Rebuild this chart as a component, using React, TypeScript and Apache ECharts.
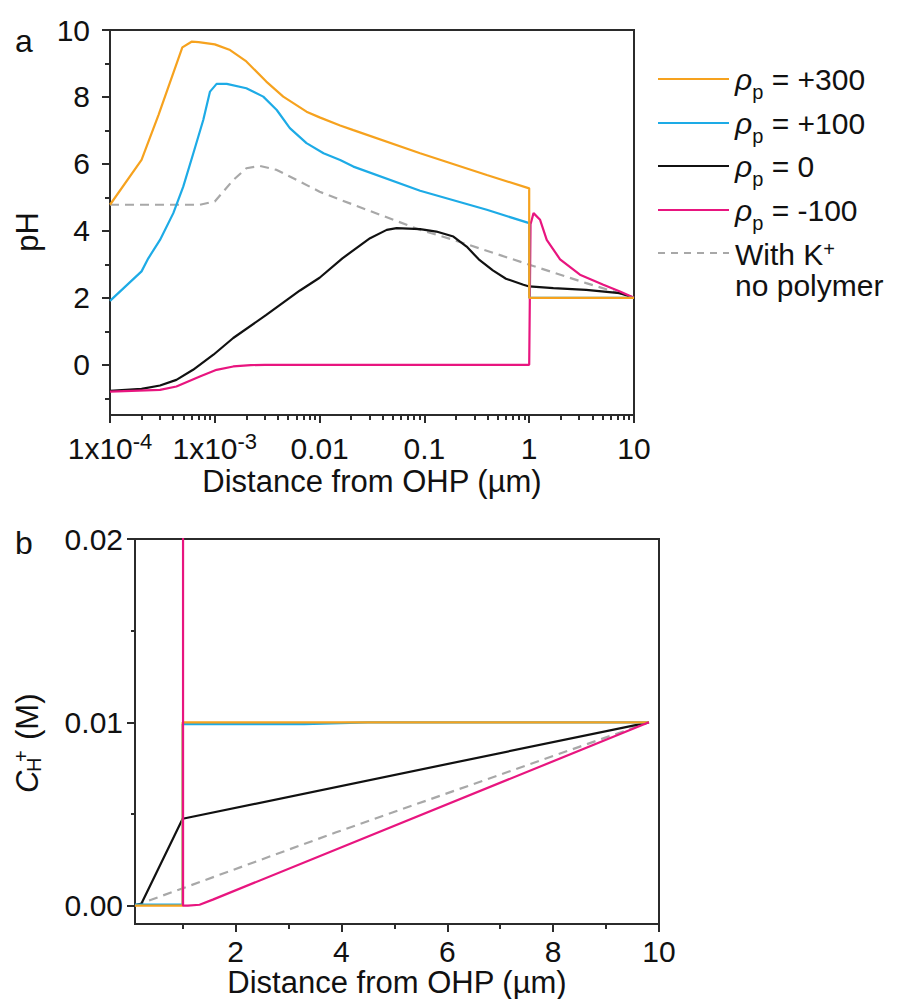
import React, { useEffect, useRef } from 'react';
import * as echarts from 'echarts';

const FONT = "'Liberation Sans', Arial, Helvetica, sans-serif";
const INK = '#111';
const AXIS = '#2b2b2b';

// ---- Panel a: pH vs distance from OHP (µm), log x ----
const pH300: [number, number][] = [
  [1e-4, 4.78], [2e-4, 6.12], [2.9e-4, 7.46], [4.9e-4, 9.48], [6.0e-4, 9.65], [7.0e-4, 9.64],
  [1.0e-3, 9.57], [1.4e-3, 9.4], [2.0e-3, 9.06], [3.1e-3, 8.46], [4.5e-3, 8.01], [7.5e-3, 7.56],
  [0.01, 7.39], [0.0157, 7.15], [0.021, 7.01], [0.091, 6.32], [0.394, 5.67], [1.0, 5.27],
  [1.0, 2.0], [10, 2.0],
];
const pH100: [number, number][] = [
  [1e-4, 1.91], [2e-4, 2.79], [2.32e-4, 3.18], [3.0e-4, 3.73], [4.02e-4, 4.53], [5.0e-4, 5.32],
  [6.24e-4, 6.32], [7.76e-4, 7.31], [9.0e-4, 8.16], [1.04e-3, 8.39], [1.3e-3, 8.39], [2.0e-3, 8.26],
  [2.9e-3, 8.01], [3.9e-3, 7.61], [5.2e-3, 7.07], [7.5e-3, 6.62], [0.0109, 6.32], [0.0157, 6.12],
  [0.021, 5.92], [0.091, 5.2], [0.394, 4.63], [1.0, 4.23], [1.0, 2.0], [10, 2.0],
];
const pH0: [number, number][] = [
  [1e-4, -0.78], [2e-4, -0.72], [3e-4, -0.62], [4.3e-4, -0.45], [6.2e-4, -0.15], [9.7e-4, 0.3],
  [1.5e-3, 0.8], [3.1e-3, 1.49], [6.5e-3, 2.22], [0.01, 2.6], [0.0165, 3.18], [0.0303, 3.78],
  [0.0437, 4.03], [0.0543, 4.08], [0.091, 4.05], [0.13, 3.98], [0.189, 3.83], [0.253, 3.53],
  [0.33, 3.15], [0.45, 2.82], [0.6, 2.57], [0.88, 2.39], [1.0, 2.34], [1.7, 2.29], [3.5, 2.24],
  [7.3, 2.14], [10, 2.0],
];
const pHm100: [number, number][] = [
  [1e-4, -0.8], [3e-4, -0.75], [4.3e-4, -0.65], [7.2e-4, -0.35], [1.04e-3, -0.15], [1.5e-3, -0.05],
  [2.2e-3, -0.01], [3e-3, 0], [1.0, 0], [1.03, 4.2], [1.1, 4.53], [1.27, 4.33], [1.47, 3.73],
  [1.97, 3.15], [3.05, 2.69], [5.1, 2.39], [7.35, 2.19], [10, 2.0],
];
const pHK: [number, number][] = [
  [1e-4, 4.78], [7.2e-4, 4.78], [1.0e-3, 4.88], [1.5e-3, 5.52], [2.0e-3, 5.87], [2.7e-3, 5.94],
  [3.9e-3, 5.82], [6.5e-3, 5.47], [0.01, 5.17], [0.0157, 4.93], [0.091, 4.03], [0.19, 3.73],
  [1.0, 2.99], [3.5, 2.44], [10, 2.0],
];

// ---- Panel b: C_H+ (M) vs distance from OHP (µm), linear x ----
const cH300: [number, number][] = [[0.1, 0], [1.0, 0], [1.0, 0.01], [9.81, 0.01]];
const cH100: [number, number][] = [
  [0.1, 0.00006], [1.0, 0.00006], [1.0, 0.0099], [3.3, 0.0099], [4.5, 0.01], [9.81, 0.01],
];
const cH0: [number, number][] = [[0.1, 0.00003], [0.22, 0.0001], [1.0, 0.00474], [9.81, 0.01]];
const cHm100: [number, number][] = [
  [0.1, 1.0], [0.995, 1.0], [1.008, 0.0], [1.1, 0.0], [1.32, 0.00005], [1.57, 0.00033], [9.81, 0.01],
];
const cHK: [number, number][] = [[0.1, 0.0], [3.9, 0.004], [9.81, 0.01]];

// ---- ticks ----
const topXLabels = ['1x10', '1x10', '0.01', '0.1', '1', '10'];
const topXExponents = [-4, -3];
const logDecades = [-4, -3, -2, -1, 0];
const logMinorMultipliers = [2, 3, 4, 5, 6, 7, 8, 9];
const topYTicks = [0, 2, 4, 6, 8, 10];
const topYMinor = [-1, 1, 3, 5, 7, 9];
const botXTicks = [2, 4, 6, 8, 10];
const botXMinor = [1, 3, 5, 7, 9];
const botYTicks = [0, 0.01, 0.02];
const botYMinor = [0.005, 0.015];

const legendValues = ['+300', '+100', '0', '-100'];
const COLORS = {
  p300: '#F6A21E',
  p100: '#1DABE6',
  p0: '#111111',
  m100: '#E8157F',
  k: '#A8A8A8',
};

const logMinorValues: number[] = [];
logDecades.forEach((d) => logMinorMultipliers.forEach((m) => logMinorValues.push(d + Math.log10(m))));

const lineStyleAxis = { color: AXIS, width: 2 };

function majorAxisBase() {
  return {
    axisLine: { show: true, onZero: false, lineStyle: lineStyleAxis },
    axisTick: { show: true, length: 8, lineStyle: lineStyleAxis },
    splitLine: { show: false },
    axisLabel: { color: INK, fontSize: 30, fontFamily: FONT },
  };
}
function minorAxis(extra: any, values: number[], len: number) {
  return {
    ...extra,
    axisLine: { show: false, onZero: false },
    axisTick: { show: true, length: len, customValues: values, lineStyle: lineStyleAxis },
    axisLabel: { show: false },
    splitLine: { show: false },
  };
}

function lineSeries(name: string, data: [number, number][], color: string, axisIdx: number, z: number, dashed = false) {
  return {
    name,
    type: 'line',
    xAxisIndex: axisIdx,
    yAxisIndex: axisIdx,
    data,
    showSymbol: false,
    symbol: 'none',
    smooth: false,
    clip: true,
    z,
    lineStyle: { color, width: 2.2, type: dashed ? [9, 6] : 'solid' },
    itemStyle: { color },
  };
}

export default function App() {
  const ref = useRef<HTMLDivElement>(null);
  useEffect(() => {
    if (!ref.current) return;
    const chart = echarts.init(ref.current, null, { renderer: 'svg' });

    const textBase = { fontFamily: FONT, fill: INK };
    const legendColors = [COLORS.p300, COLORS.p100, COLORS.p0, COLORS.m100];
    const rowY = [79, 123, 166, 210, 253];
    const legendGraphics: any[] = [];
    legendValues.forEach((v, i) => {
      legendGraphics.push({
        type: 'line',
        shape: { x1: 658, y1: rowY[i], x2: 729, y2: rowY[i] },
        style: { stroke: legendColors[i], lineWidth: 2.2 },
      });
      legendGraphics.push({
        type: 'text',
        x: 735,
        y: rowY[i] - 15,
        style: {
          ...textBase,
          text: `{r|ρ}{p|p}{n| = ${v}}`,
          verticalAlign: 'top',
          align: 'left',
          rich: {
            r: { fontSize: 30, lineHeight: 30, fontStyle: 'italic', verticalAlign: 'top', fontFamily: FONT, fill: INK },
            p: { fontSize: 20, lineHeight: 20, padding: [18, 0, 0, 0], verticalAlign: 'top', fontFamily: FONT, fill: INK },
            n: { fontSize: 30, lineHeight: 30, verticalAlign: 'top', fontFamily: FONT, fill: INK },
          },
        },
      });
    });
    legendGraphics.push({
      type: 'line',
      shape: { x1: 658, y1: rowY[4], x2: 729, y2: rowY[4] },
      style: { stroke: COLORS.k, lineWidth: 2.2, lineDash: [7, 6] },
    });
    legendGraphics.push({
      type: 'text',
      x: 735,
      y: rowY[4] - 14,
      style: {
        ...textBase,
        text: '{n|With K}{s|+}',
        verticalAlign: 'top',
        rich: {
          n: { fontSize: 30, lineHeight: 30, verticalAlign: 'top', fontFamily: FONT, fill: INK },
          s: { fontSize: 20, lineHeight: 20, verticalAlign: 'top', fontFamily: FONT, fill: INK },
        },
      },
    });
    legendGraphics.push({
      type: 'text',
      x: 735,
      y: rowY[4] + 32,
      style: { ...textBase, text: 'no polymer', fontSize: 30, verticalAlign: 'middle' },
    });

    const option: any = {
      animation: false,
      textStyle: { fontFamily: FONT },
      grid: [
        { left: 110, top: 30, width: 524, height: 385, show: true, borderColor: AXIS, borderWidth: 2, containLabel: false, outerBoundsMode: 'none' },
        { left: 135, top: 539, width: 524, height: 385, show: true, borderColor: AXIS, borderWidth: 2, containLabel: false, outerBoundsMode: 'none' },
      ],
      xAxis: [
        {
          ...majorAxisBase(),
          type: 'log',
          logBase: 10,
          gridIndex: 0,
          position: 'bottom',
          min: 1e-4,
          max: 10,
          axisLabel: {
            color: INK,
            fontFamily: FONT,
            margin: 15,
            formatter: (v: number) => {
              const e = Math.round(Math.log10(v));
              const idx = e + 4;
              if (topXExponents.indexOf(e) >= 0) return `{n|${topXLabels[idx]}}{s|${e}}`;
              return `{n|${topXLabels[idx]}}`;
            },
            rich: {
              n: { fontSize: 30, lineHeight: 30, padding: [3, 0, 0, 0], verticalAlign: 'top', color: INK, fontFamily: FONT },
              s: { fontSize: 22, lineHeight: 22, verticalAlign: 'top', color: INK, fontFamily: FONT },
            },
          },
          name: 'Distance from OHP (µm)',
          nameLocation: 'middle',
          nameGap: 51,
          nameMoveOverlap: false,
          nameTextStyle: { fontSize: 31, color: INK, fontFamily: FONT },
        },
        minorAxis({ type: 'value', gridIndex: 0, position: 'bottom', min: -4, max: 1 }, logMinorValues, 5),
        {
          ...majorAxisBase(),
          type: 'value',
          gridIndex: 1,
          position: 'bottom',
          min: 0.1,
          max: 10,
          axisTick: { show: true, length: 8, customValues: botXTicks, lineStyle: lineStyleAxis },
          axisLabel: { color: INK, fontSize: 30, fontFamily: FONT, margin: 12, customValues: botXTicks },
          name: 'Distance from OHP (µm)',
          nameLocation: 'middle',
          nameGap: 43,
          nameMoveOverlap: false,
          nameTextStyle: { fontSize: 31, color: INK, fontFamily: FONT },
        },
        minorAxis({ type: 'value', gridIndex: 1, position: 'bottom', min: 0.1, max: 10 }, botXMinor, 5),
      ],
      yAxis: [
        {
          ...majorAxisBase(),
          type: 'value',
          gridIndex: 0,
          position: 'left',
          min: -1.5,
          max: 10,
          axisTick: { show: true, length: 8, customValues: topYTicks, lineStyle: lineStyleAxis },
          axisLabel: { color: INK, fontSize: 30, fontFamily: FONT, margin: 20, customValues: topYTicks },
        },
        minorAxis({ type: 'value', gridIndex: 0, position: 'left', min: -1.5, max: 10 }, topYMinor, 5),
        {
          ...majorAxisBase(),
          type: 'value',
          gridIndex: 1,
          position: 'left',
          min: -0.001,
          max: 0.02,
          axisTick: { show: true, length: 8, customValues: botYTicks, lineStyle: lineStyleAxis },
          axisLabel: {
            color: INK, fontSize: 30, fontFamily: FONT, margin: 12, customValues: botYTicks,
            formatter: (v: number) => v.toFixed(2),
          },
        },
        minorAxis({ type: 'value', gridIndex: 1, position: 'left', min: -0.001, max: 0.02 }, botYMinor, 4),
      ],
      series: [
        lineSeries('With K+ no polymer', pHK, COLORS.k, 0, 1, true),
        lineSeries('ρp = 0', pH0, COLORS.p0, 0, 2),
        lineSeries('ρp = -100', pHm100, COLORS.m100, 0, 3),
        lineSeries('ρp = +100', pH100, COLORS.p100, 0, 4),
        lineSeries('ρp = +300', pH300, COLORS.p300, 0, 5),
        lineSeries('With K+ no polymer (C)', cHK, COLORS.k, 2, 1, true),
        lineSeries('ρp = 0 (C)', cH0, COLORS.p0, 2, 2),
        lineSeries('ρp = +100 (C)', cH100, COLORS.p100, 2, 3),
        lineSeries('ρp = +300 (C)', cH300, COLORS.p300, 2, 4),
        lineSeries('ρp = -100 (C)', cHm100, COLORS.m100, 2, 5),
      ],
      graphic: [
        { type: 'text', x: 15, y: 41, style: { ...textBase, text: 'a', fontSize: 32, verticalAlign: 'middle' } },
        { type: 'text', x: 15, y: 543, style: { ...textBase, text: 'b', fontSize: 32, verticalAlign: 'middle' } },
        {
          type: 'text', x: 27, y: 232, rotation: Math.PI / 2,
          style: { ...textBase, text: 'pH', fontSize: 31, align: 'center', verticalAlign: 'middle' },
        },
        {
          type: 'group', x: 27, y: 793, rotation: Math.PI / 2,
          children: [
            { type: 'text', x: 0, y: 0, style: { ...textBase, text: 'C', fontSize: 31, fontStyle: 'italic', verticalAlign: 'middle' } },
            { type: 'text', x: 21, y: 7, style: { ...textBase, text: 'H', fontSize: 20, verticalAlign: 'middle' } },
            { type: 'text', x: 31, y: -6, style: { ...textBase, text: '+', fontSize: 20, verticalAlign: 'middle' } },
            { type: 'text', x: 53, y: 0, style: { ...textBase, text: '(M)', fontSize: 31, verticalAlign: 'middle' } },
          ],
        },
        ...legendGraphics,
      ],
    };
    chart.setOption(option);
    return () => chart.dispose();
  }, []);
  return <div ref={ref} style={{ position: 'absolute', left: 0, top: 0, width: 899, height: 999 }} />;
}
